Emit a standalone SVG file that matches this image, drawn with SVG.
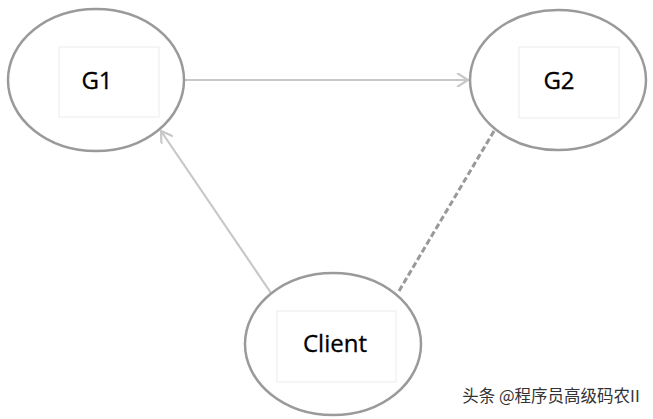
<svg xmlns="http://www.w3.org/2000/svg" width="653" height="419" viewBox="0 0 653 419">
<style>
.node{fill:#fff;stroke:#9a9a9a;stroke-width:2.5}
.box{fill:#fff;stroke:#ececec;stroke-width:1}
.lbl{font-family:"Open Sans","Liberation Sans",sans-serif;font-size:24px;fill:#000;text-anchor:middle;stroke:#000;stroke-width:0.3}
.arr{stroke:#c8c8c8;stroke-width:2.2;fill:none}
.dash{stroke:#999;stroke-width:3;fill:none;stroke-dasharray:6 3}
</style>
<defs>
<marker id="open" markerWidth="14" markerHeight="14" refX="12" refY="7" orient="auto" markerUnits="userSpaceOnUse">
<path d="M1,0 L12,7 L1,14" fill="none" stroke="#c8c8c8" stroke-width="2.2"/>
</marker>
</defs>
<rect width="653" height="419" fill="#fff"/>
<g id="connectors">
<line class="arr" x1="185" y1="80" x2="468" y2="80" marker-end="url(#open)"/>
<line class="arr" x1="271" y1="293" x2="161" y2="131" marker-end="url(#open)"/>
<line class="dash" x1="494" y1="131" x2="399" y2="291"/>
</g>
<g id="G1">
<ellipse class="node" cx="96" cy="80" rx="88" ry="71"/>
<rect class="box" x="59" y="47" width="100" height="70"/>
<text class="lbl" x="97" y="89">G1</text>
</g>
<g id="G2">
<ellipse class="node" cx="558" cy="80" rx="88" ry="70"/>
<rect class="box" x="519" y="47" width="100" height="71"/>
<text class="lbl" x="559" y="89">G2</text>
</g>
<g id="Client">
<ellipse class="node" cx="333" cy="344" rx="88" ry="71"/>
<rect class="box" x="277" y="311" width="119" height="71"/>
<text class="lbl" x="335" y="352">Client</text>
</g>
<text x="551" y="402" font-family="'Noto Sans CJK SC',sans-serif" font-size="16.5" fill="#333" text-anchor="middle">头条 @程序员高级码农II</text>
</svg>
